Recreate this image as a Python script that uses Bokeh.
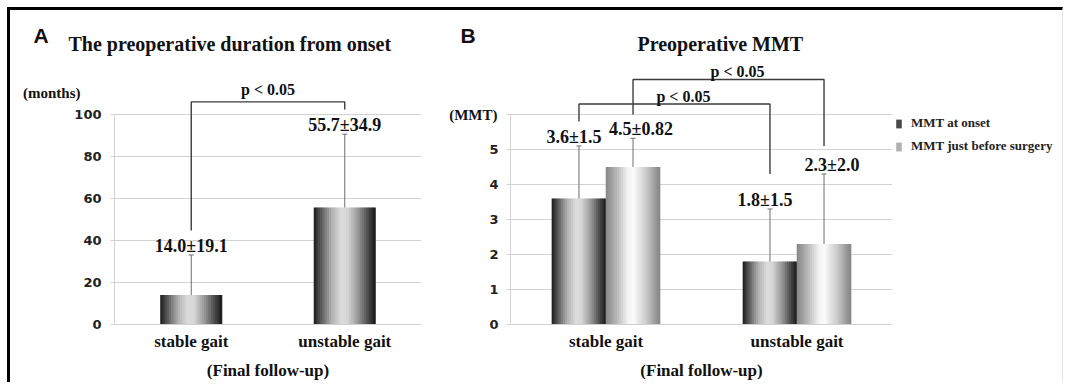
from bokeh.plotting import figure
from bokeh.models import (FactorRange, Range1d, FixedTicker, Legend,
                          LegendItem, ColumnDataSource, LinearAxis, Spacer)
from bokeh.transform import dodge
from bokeh.layouts import row, column
from bokeh.embed import file_html
from bokeh.resources import INLINE
from bokeh.core.properties import value

# ---------------- data ----------------
groups = ["stable gait", "unstable gait"]
x_title = "(Final follow-up)"
p_label = "p < 0.05"

# Panel A
a_letter = "A"
a_title = "The preoperative duration from onset"
a_unit = "(months)"
a_unit_at = 110
duration_mean = [14.0, 55.7]
duration_sd = [19.1, 34.9]
duration_ticks = [0, 20, 40, 60, 80, 100]
a_bracket_level = 106.0
a_bracket_ends = [44.8, 102.4]

# Panel B
b_letter = "B"
b_title = "Preoperative MMT"
b_unit = "(MMT)"
b_unit_at = 6
series = ["MMT at onset", "MMT just before surgery"]
mmt_onset_mean = [3.6, 1.8]
mmt_onset_sd = [1.5, 1.5]
mmt_surgery_mean = [4.5, 2.3]
mmt_surgery_sd = [0.82, 2.0]
mmt_ticks = [0, 1, 2, 3, 4, 5, 6]
b_bracket_levels = [6.3, 7.0]            # onset bracket, surgery bracket
b_bracket_ends = [[5.8, 4.3], [6.0, 5.1]]

# ---------------- styles ----------------
SERIF_NAME = "Liberation Serif"
SERIF = value(SERIF_NAME)
DARK = [(0.0, 0x1a), (0.12, 0x5a), (0.3, 0xb4), (0.45, 0xdc), (0.55, 0xd6),
        (0.72, 0x98), (0.9, 0x44), (1.0, 0x18)]
LIGHT = [(0.0, 0x86), (0.2, 0xb6), (0.42, 0xf6), (0.52, 0xfa), (0.72, 0xd0),
         (1.0, 0x84)]
NSLICE = 28
GRID = "#d3d3d3"
ERR = "#6e6e6e"
BRK = "#3c3c3c"
TXT = "#111111"
BASE_FIX = -6   # baseline correction of svg text


def grad_colors(stops, n):
    cols = []
    for k in range(n):
        t = (k + 0.5) / n
        g = stops[-1][1]
        for (t0, g0), (t1, g1) in zip(stops, stops[1:]):
            if t0 <= t <= t1:
                g = round(g0 + (g1 - g0) * (t - t0) / (t1 - t0))
                break
        cols.append("#%02x%02x%02x" % (g, g, g))
    return cols


def gradient_bar(p, src, field, offset, width, stops):
    cols = grad_colors(stops, NSLICE)
    sw = width / NSLICE
    for k, c in enumerate(cols):
        off = offset - width / 2 + (k + 0.5) * sw
        p.vbar(x=dodge("group", off, range=p.x_range), top=field,
               bottom=0, width=sw * 1.3, source=src,
               fill_color=c, line_color=None)


def error_and_label(p, src, offset, mean_field, label_dx=0):
    xs = dodge("group", offset, range=p.x_range)
    p.segment(x0=xs, y0=mean_field, x1=xs, y1="upper", source=src,
              line_color=ERR, line_width=1)
    p.scatter(x=xs, y="upper", marker="dash", size=5, source=src,
              line_color=ERR, line_width=1)
    p.text(x=xs, y="upper", text="label", source=src, text_align="center",
           text_baseline="alphabetic", y_offset=-3 + BASE_FIX,
           x_offset=label_dx, text_font=SERIF,
           text_font_style="bold", text_font_size="18px", text_color=TXT)


def pos(g, off):
    return groups.index(g) + 0.5 + off


def bracket(p, x1, x2, ends, level, dy, dx):
    p.line(x=[x1, x1, x2, x2], y=[ends[0], level, level, ends[1]],
           line_color=BRK, line_width=1.4)
    p.text(x=[(x1 + x2) / 2], y=[level], text=[p_label], text_align="center",
           text_baseline="alphabetic", y_offset=dy + BASE_FIX, x_offset=dx,
           text_font=SERIF, text_font_style="bold", text_font_size="16px",
           text_color=TXT)


def style_axes(p, ticks, bounds):
    p.xgrid.visible = False
    p.ygrid.grid_line_color = GRID
    p.ygrid.grid_line_width = 1
    p.outline_line_color = None
    p.yaxis.ticker = FixedTicker(ticks=ticks)
    p.yaxis.bounds = bounds
    p.yaxis.axis_line_color = GRID
    p.yaxis.major_tick_line_color = GRID
    p.yaxis.major_tick_out = 4
    p.yaxis.major_tick_in = 0
    p.yaxis.minor_tick_line_color = None
    p.yaxis.major_label_standoff = 9
    p.yaxis.major_label_text_font = "DejaVu Sans"
    p.yaxis.major_label_text_font_style = "bold"
    p.yaxis.major_label_text_font_size = "13px"
    p.yaxis.major_label_text_color = "#222222"
    p.xaxis.axis_line_color = GRID
    p.xaxis.major_tick_line_color = None
    p.xaxis.major_tick_out = 0
    p.xaxis.major_tick_in = 0
    p.xaxis.major_label_standoff = 7
    p.xaxis.major_label_text_font = SERIF_NAME
    p.xaxis.major_label_text_font_style = "bold"
    p.xaxis.major_label_text_font_size = "17px"
    p.xaxis.major_label_text_color = TXT
    p.xaxis.axis_label = x_title
    p.xaxis.axis_label_standoff = 7
    p.xaxis.axis_label_text_font = SERIF_NAME
    p.xaxis.axis_label_text_font_style = "bold"
    p.xaxis.axis_label_text_font_size = "17px"
    p.xaxis.axis_label_text_color = TXT


def unit_axis(p, tick, text, standoff):
    ax = LinearAxis(ticker=FixedTicker(ticks=[tick]),
                    major_label_overrides={tick: text},
                    axis_line_color=None, major_tick_line_color=None,
                    minor_tick_line_color=None, major_tick_out=0,
                    major_tick_in=0, minor_tick_out=0,
                    major_label_standoff=standoff,
                    major_label_text_font=SERIF_NAME,
                    major_label_text_font_style="bold",
                    major_label_text_font_size="15px",
                    major_label_text_color=TXT)
    p.add_layout(ax, "left")


# ---------------- header (panel letters and titles) ----------------
hdr = figure(width=1052, height=46, x_range=Range1d(10, 1062),
             y_range=Range1d(56, 10), output_backend="svg",
             toolbar_location=None, min_border=0, x_axis_location=None,
             y_axis_location=None)
hdr.grid.visible = False
hdr.outline_line_color = None
hdr.text(x=[33, 460], y=[43, 43], text=[a_letter, b_letter],
         text_baseline="alphabetic", y_offset=-8,
         text_font=value("Liberation Sans"),
         text_font_style="bold", text_font_size="21px", text_color=TXT)
hdr.text(x=[68, 637], y=[50, 50], text=[a_title, b_title],
         text_baseline="alphabetic", y_offset=-7, text_font=SERIF,
         text_font_style="bold", text_font_size="20px", text_color=TXT)

# ---------------- Panel A ----------------
A_TOP = 125.7
pa = figure(width=431, height=326, x_range=FactorRange(factors=groups),
            y_range=Range1d(0, A_TOP), output_backend="svg",
            toolbar_location=None, min_border_left=104, min_border_right=20,
            min_border_top=4, min_border_bottom=58)
style_axes(pa, duration_ticks, (0, 100))
unit_axis(pa, a_unit_at, a_unit, -9)

src_a = ColumnDataSource(dict(
    group=groups, mean=duration_mean, sd=duration_sd,
    upper=[m + s for m, s in zip(duration_mean, duration_sd)],
    label=[f"{m}\u00b1{s}" for m, s in zip(duration_mean, duration_sd)]))
gradient_bar(pa, src_a, "mean", 0.0, 0.4, DARK)
error_and_label(pa, src_a, 0.0, "mean")

bracket(pa, pos(groups[0], 0), pos(groups[1], 0), a_bracket_ends,
        a_bracket_level, -6, 0)

# ---------------- Panel B ----------------
B_TOP = 7.543
BW = 0.283
pb = figure(width=451, height=326, x_range=FactorRange(factors=groups),
            y_range=Range1d(0, B_TOP), output_backend="svg",
            toolbar_location=None, min_border_left=69, min_border_right=0,
            min_border_top=4, min_border_bottom=58)
style_axes(pb, mmt_ticks, (0, 6))
pb.yaxis.major_label_overrides = {6: ""}
pb.yaxis.major_label_standoff = 8
unit_axis(pb, b_unit_at, b_unit, -11)

src_on = ColumnDataSource(dict(
    group=groups, mean=mmt_onset_mean, sd=mmt_onset_sd,
    upper=[m + s for m, s in zip(mmt_onset_mean, mmt_onset_sd)],
    label=[f"{m}\u00b1{s}" for m, s in zip(mmt_onset_mean, mmt_onset_sd)]))
src_su = ColumnDataSource(dict(
    group=groups, mean=mmt_surgery_mean, sd=mmt_surgery_sd,
    upper=[m + s for m, s in zip(mmt_surgery_mean, mmt_surgery_sd)],
    label=[f"{m}\u00b1{s}" for m, s in zip(mmt_surgery_mean, mmt_surgery_sd)]))

gradient_bar(pb, src_on, "mean", -BW / 2, BW, DARK)
gradient_bar(pb, src_su, "mean", BW / 2, BW, LIGHT)
error_and_label(pb, src_on, -BW / 2, "mean", label_dx=-5)
error_and_label(pb, src_su, BW / 2, "mean", label_dx=8)

bracket(pb, pos(groups[0], -BW / 2), pos(groups[1], -BW / 2),
        b_bracket_ends[0], b_bracket_levels[0], -2, 9)
bracket(pb, pos(groups[0], BW / 2), pos(groups[1], BW / 2),
        b_bracket_ends[1], b_bracket_levels[1], -2, 9)

# ---------------- legend column ----------------
lg = figure(width=170, height=272, x_range=Range1d(0, 1),
            y_range=Range1d(0, 1), output_backend="svg",
            toolbar_location=None, min_border=0, x_axis_location=None,
            y_axis_location=None)
lg.grid.visible = False
lg.outline_line_color = None
nan = float("nan")
proxy_on = lg.vbar(x=[nan], top=[nan], width=1, fill_color="#4a4a4a",
                   line_color=None)
proxy_su = lg.vbar(x=[nan], top=[nan], width=1, fill_color="#b0b0b0",
                   line_color=None)
legend = Legend(items=[LegendItem(label=series[0], renderers=[proxy_on]),
                       LegendItem(label=series[1], renderers=[proxy_su])],
                location="top_left", padding=2, margin=3, spacing=3,
                glyph_width=7, glyph_height=11, label_standoff=9,
                label_height=20, border_line_color=None,
                background_fill_alpha=0,
                label_text_font=SERIF_NAME,
                label_text_font_style="bold", label_text_font_size="13px",
                label_text_color="#222222")
lg.add_layout(legend)
legend_col = column(Spacer(width=170, height=54), lg)

layout = column(hdr, row(pa, pb, legend_col), margin=(7, 0, 0, 7),
                styles={"border-top": "3px solid #000",
                        "border-left": "3px solid #000",
                        "border-right": "1px solid #e4e4e4",
                        "border-bottom": "none"})

with open("out.html", "w") as f:
    f.write(file_html(layout, INLINE))
